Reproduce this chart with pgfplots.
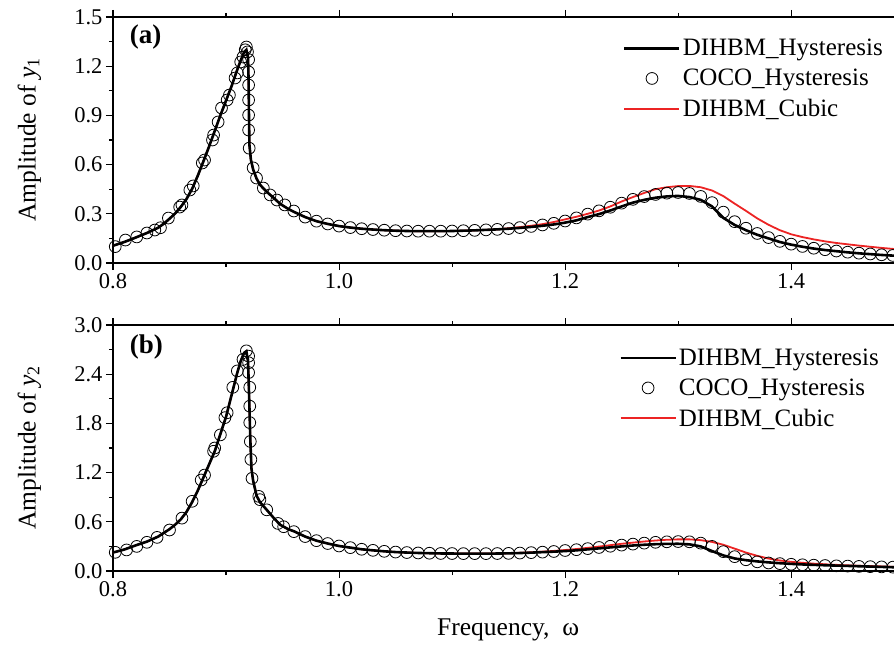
\documentclass[border=0pt]{standalone}
\usepackage{fontspec}
\setmainfont{Liberation Serif}
\usepackage{pgfplots}
\usepackage{pgfplotstable}
\pgfplotsset{compat=1.18}
\definecolor{cubicred}{RGB}{236,36,36}

% ---- panel (a): amplitude of y1 ----
\pgfplotstableread{
w A
0.800 0.105
0.810 0.128
0.820 0.155
0.830 0.183
0.840 0.215
0.845 0.240
0.850 0.270
0.855 0.302
0.860 0.342
0.865 0.390
0.870 0.452
0.875 0.532
0.880 0.620
0.885 0.710
0.890 0.805
0.895 0.900
0.900 0.990
0.905 1.080
0.910 1.180
0.913 1.235
0.916 1.285
0.918 1.300
0.9195 1.250
0.9200 1.100
0.9203 0.900
0.9207 0.720
0.922 0.630
0.924 0.570
0.927 0.515
0.930 0.478
0.933 0.455
0.937 0.428
0.942 0.398
0.948 0.360
0.955 0.330
0.960 0.312
0.97 0.280
0.98 0.255
0.99 0.238
1.00 0.225
1.01 0.216
1.02 0.209
1.03 0.204
1.04 0.200
1.05 0.197
1.06 0.195
1.07 0.194
1.08 0.194
1.09 0.194
1.10 0.195
1.11 0.197
1.12 0.199
1.13 0.202
1.14 0.205
1.15 0.209
1.16 0.214
1.17 0.220
1.18 0.227
1.19 0.235
1.20 0.246
1.21 0.260
1.22 0.280
1.23 0.298
1.24 0.320
1.25 0.345
1.26 0.368
1.27 0.385
1.28 0.398
1.29 0.406
1.30 0.409
1.31 0.402
1.32 0.385
1.33 0.345
1.34 0.275
1.35 0.232
1.36 0.200
1.37 0.172
1.38 0.150
1.39 0.128
1.40 0.112
1.41 0.099
1.42 0.088
1.43 0.079
1.44 0.072
1.45 0.065
1.46 0.059
1.47 0.054
1.48 0.049
1.49 0.045
1.50 0.042
}\topblack

\pgfplotstableread{
w A
0.800 0.105
0.810 0.128
0.820 0.155
0.830 0.183
0.840 0.215
0.845 0.240
0.850 0.270
0.855 0.302
0.860 0.342
0.865 0.390
0.870 0.452
0.875 0.532
0.880 0.620
0.885 0.710
0.890 0.805
0.895 0.900
0.900 0.990
0.905 1.080
0.910 1.180
0.913 1.235
0.916 1.285
0.918 1.300
0.9195 1.250
0.9200 1.100
0.9203 0.900
0.9207 0.720
0.922 0.630
0.924 0.570
0.927 0.515
0.930 0.478
0.933 0.455
0.937 0.428
0.942 0.398
0.948 0.360
0.955 0.330
0.960 0.312
0.97 0.280
0.98 0.255
0.99 0.238
1.00 0.225
1.01 0.216
1.02 0.209
1.03 0.204
1.04 0.200
1.05 0.197
1.06 0.195
1.07 0.194
1.08 0.194
1.09 0.194
1.10 0.195
1.11 0.197
1.12 0.199
1.13 0.202
1.14 0.205
1.15 0.212
1.16 0.219
1.17 0.227
1.18 0.237
1.19 0.250
1.20 0.266
1.21 0.282
1.22 0.300
1.23 0.320
1.24 0.345
1.25 0.375
1.26 0.402
1.27 0.427
1.28 0.450
1.29 0.462
1.30 0.469
1.31 0.470
1.32 0.462
1.33 0.442
1.34 0.408
1.35 0.362
1.36 0.318
1.37 0.272
1.38 0.233
1.39 0.200
1.40 0.175
1.41 0.158
1.42 0.144
1.43 0.132
1.44 0.122
1.45 0.114
1.46 0.106
1.47 0.099
1.48 0.092
1.49 0.086
1.50 0.081
}\topcubic

\pgfplotstableread{
w A
0.802 0.100
0.811 0.140
0.821 0.159
0.830 0.183
0.837 0.201
0.842 0.215
0.849 0.274
0.859 0.341
0.861 0.354
0.868 0.445
0.871 0.470
0.879 0.610
0.881 0.628
0.888 0.750
0.889 0.780
0.893 0.860
0.896 0.945
0.901 0.994
0.903 1.024
0.908 1.128
0.910 1.159
0.913 1.226
0.915 1.256
0.917 1.300
0.918 1.317
0.919 1.287
0.920 1.240
0.920 1.165
0.920 1.085
0.920 0.994
0.920 0.902
0.920 0.811
0.9205 0.700
0.924 0.580
0.927 0.518
0.933 0.457
0.939 0.415
0.945 0.384
0.952 0.354
0.960 0.317
0.97 0.280
0.98 0.255
0.99 0.238
1.00 0.225
1.01 0.216
1.02 0.209
1.03 0.204
1.04 0.200
1.05 0.197
1.06 0.195
1.07 0.194
1.08 0.194
1.09 0.194
1.10 0.195
1.11 0.197
1.12 0.199
1.13 0.202
1.14 0.205
1.15 0.210
1.16 0.216
1.17 0.223
1.18 0.232
1.19 0.242
1.20 0.256
1.21 0.275
1.22 0.298
1.23 0.318
1.24 0.340
1.25 0.365
1.26 0.388
1.27 0.405
1.28 0.418
1.29 0.426
1.30 0.430
1.31 0.424
1.32 0.406
1.33 0.368
1.34 0.310
1.35 0.252
1.36 0.212
1.37 0.180
1.38 0.155
1.39 0.132
1.40 0.115
1.41 0.101
1.42 0.090
1.43 0.081
1.44 0.073
1.45 0.066
1.46 0.060
1.47 0.055
1.48 0.050
1.49 0.046
}\topcoco

% ---- panel (b): amplitude of y2 ----
\pgfplotstableread{
w A
0.800 0.225
0.810 0.262
0.820 0.312
0.830 0.358
0.840 0.420
0.850 0.510
0.855 0.565
0.860 0.630
0.865 0.720
0.870 0.840
0.875 0.980
0.880 1.140
0.885 1.300
0.890 1.460
0.895 1.670
0.900 1.880
0.905 2.150
0.910 2.420
0.913 2.560
0.916 2.660
0.918 2.680
0.9195 2.550
0.9205 2.100
0.9215 1.600
0.9225 1.250
0.924 1.100
0.927 0.920
0.930 0.840
0.936 0.746
0.942 0.650
0.948 0.563
0.955 0.510
0.960 0.485
0.97 0.420
0.98 0.370
0.99 0.335
1.00 0.305
1.01 0.285
1.02 0.265
1.03 0.252
1.04 0.240
1.05 0.231
1.06 0.225
1.07 0.220
1.08 0.217
1.09 0.214
1.10 0.213
1.11 0.212
1.12 0.212
1.13 0.212
1.14 0.213
1.15 0.215
1.16 0.219
1.17 0.224
1.18 0.230
1.19 0.236
1.20 0.243
1.21 0.252
1.22 0.264
1.23 0.276
1.24 0.288
1.25 0.300
1.26 0.311
1.27 0.320
1.28 0.327
1.29 0.331
1.30 0.332
1.31 0.325
1.32 0.300
1.33 0.243
1.34 0.190
1.35 0.153
1.36 0.132
1.37 0.117
1.38 0.105
1.39 0.095
1.40 0.087
1.41 0.080
1.42 0.075
1.43 0.070
1.44 0.066
1.45 0.062
1.46 0.058
1.47 0.054
1.48 0.050
1.49 0.046
1.50 0.043
}\botblack

\pgfplotstableread{
w A
0.800 0.225
0.810 0.262
0.820 0.312
0.830 0.358
0.840 0.420
0.850 0.510
0.855 0.565
0.860 0.630
0.865 0.720
0.870 0.840
0.875 0.980
0.880 1.140
0.885 1.300
0.890 1.460
0.895 1.670
0.900 1.880
0.905 2.150
0.910 2.420
0.913 2.560
0.916 2.660
0.918 2.680
0.9195 2.550
0.9205 2.100
0.9215 1.600
0.9225 1.250
0.924 1.100
0.927 0.920
0.930 0.840
0.936 0.746
0.942 0.650
0.948 0.563
0.955 0.510
0.960 0.485
0.97 0.420
0.98 0.370
0.99 0.335
1.00 0.305
1.01 0.285
1.02 0.265
1.03 0.252
1.04 0.240
1.05 0.231
1.06 0.225
1.07 0.220
1.08 0.217
1.09 0.214
1.10 0.213
1.11 0.212
1.12 0.212
1.13 0.212
1.14 0.213
1.15 0.216
1.16 0.222
1.17 0.228
1.18 0.236
1.19 0.245
1.20 0.256
1.21 0.268
1.22 0.282
1.23 0.298
1.24 0.315
1.25 0.332
1.26 0.346
1.27 0.360
1.28 0.372
1.29 0.381
1.30 0.386
1.31 0.386
1.32 0.376
1.33 0.355
1.34 0.320
1.35 0.273
1.36 0.225
1.37 0.185
1.38 0.152
1.39 0.128
1.40 0.112
1.41 0.100
1.42 0.090
1.43 0.082
1.44 0.075
1.45 0.069
1.46 0.064
1.47 0.060
1.48 0.056
1.49 0.052
1.50 0.049
}\botcubic

\pgfplotstableread{
w A
0.802 0.228
0.812 0.257
0.821 0.300
0.830 0.350
0.839 0.410
0.850 0.500
0.861 0.645
0.870 0.850
0.878 1.110
0.881 1.170
0.889 1.460
0.890 1.500
0.895 1.660
0.899 1.870
0.901 1.930
0.906 2.240
0.910 2.440
0.915 2.580
0.918 2.685
0.920 2.620
0.920 2.540
0.920 2.420
0.921 2.240
0.921 2.010
0.921 1.810
0.9215 1.580
0.922 1.360
0.923 1.130
0.929 0.910
0.930 0.870
0.936 0.746
0.946 0.580
0.951 0.540
0.960 0.480
0.97 0.420
0.98 0.370
0.99 0.335
1.00 0.305
1.01 0.285
1.02 0.265
1.03 0.252
1.04 0.240
1.05 0.231
1.06 0.225
1.07 0.220
1.08 0.217
1.09 0.214
1.10 0.213
1.11 0.212
1.12 0.212
1.13 0.212
1.14 0.213
1.15 0.215
1.16 0.219
1.17 0.224
1.18 0.230
1.19 0.238
1.20 0.250
1.21 0.260
1.22 0.273
1.23 0.287
1.24 0.302
1.25 0.316
1.26 0.328
1.27 0.340
1.28 0.350
1.29 0.356
1.30 0.359
1.31 0.356
1.32 0.340
1.33 0.300
1.34 0.236
1.35 0.175
1.36 0.137
1.37 0.112
1.38 0.098
1.39 0.090
1.40 0.082
1.41 0.076
1.42 0.071
1.43 0.067
1.44 0.063
1.45 0.060
1.46 0.056
1.47 0.053
1.48 0.050
1.49 0.047
}\botcoco

\pgfplotsset{
  panel/.style={
    scale only axis, width=781pt, height=246pt,
    xmin=0.8, xmax=1.491,
    axis y line*=left,
    axis line style={line width=1.4pt},
    every tick/.style={black, line width=1.1pt},
    tick align=outside,
    major tick length=7pt, minor tick length=4pt,
    xtick={0.8,1.0,1.2,1.4}, minor x tick num=1,
    minor y tick num=1,
    tick label style={font=\fontsize{22.5}{26}\selectfont},
    /pgf/number format/fixed,
    /pgf/number format/fixed zerofill,
    /pgf/number format/precision=1,
    /pgf/number format/assume math mode=true,
    ylabel style={at={(axis description cs:-0.107,0.5)}, anchor=center,
      font=\fontsize{25.5}{30}\selectfont},
    legend cell align=left,
    legend style={draw=none, fill=none, anchor=north west, inner sep=0pt,
      font=\fontsize{25}{30}\selectfont, row sep=8pt,
      /tikz/every even column/.append style={column sep=4pt}},
    legend image code/.code={\draw[##1] (0pt,0pt) -- (55pt,0pt);},
  },
  coco/.style={only marks, mark=o, mark size=5.9pt,
    mark options={line width=0.8pt, black},
    legend image code/.code={\draw[mark repeat=2,mark phase=2,##1]
      plot coordinates {(0pt,0pt)(27.5pt,0pt)(55pt,0pt)};}},
}

\begin{document}
\begin{tikzpicture}
\begin{axis}[panel, ymin=0, ymax=1.5, ytick={0,0.3,0.6,0.9,1.2,1.5},
  ylabel={Amplitude of \textit{y}\textsubscript{1}},
  legend style={at={(axis description cs:0.653,0.918)}}]
\addplot[cubicred, line width=1.8pt, forget plot] table {\topcubic};
\addplot[black, line width=2.6pt] table {\topblack};
\addlegendentry{DIHBM\_Hysteresis}
\addplot[coco] table {\topcoco};
\addlegendentry{COCO\_Hysteresis}
\addlegendimage{cubicred, line width=1.8pt}
\addlegendentry{DIHBM\_Cubic}
\node[anchor=west, font=\bfseries\fontsize{27}{30}\selectfont]
  at (axis description cs:0.017,0.918) {(a)};
\end{axis}

\begin{axis}[panel, at={(0pt,-308pt)}, ymin=0, ymax=3.0,
  ytick={0,0.6,1.2,1.8,2.4,3.0},
  ylabel={Amplitude of \textit{y}\textsubscript{2}},
  xlabel={Frequency,\ \ ω},
  xlabel style={at={(axis description cs:0.506,-0.24)}, anchor=center,
    font=\fontsize{25.5}{30}\selectfont},
  legend style={at={(axis description cs:0.648,0.912)}}]
\addplot[cubicred, line width=1.8pt, forget plot] table {\botcubic};
\addplot[black, line width=2.6pt] table {\botblack};
\addlegendentry{DIHBM\_Hysteresis}
\addplot[coco] table {\botcoco};
\addlegendentry{COCO\_Hysteresis}
\addlegendimage{cubicred, line width=1.8pt}
\addlegendentry{DIHBM\_Cubic}
\node[anchor=west, font=\bfseries\fontsize{27}{30}\selectfont]
  at (axis description cs:0.017,0.91) {(b)};
\end{axis}
\pgfresetboundingbox
\path[use as bounding box] (-113pt,-387pt) rectangle (781pt,263pt);
\end{tikzpicture}
\end{document}
